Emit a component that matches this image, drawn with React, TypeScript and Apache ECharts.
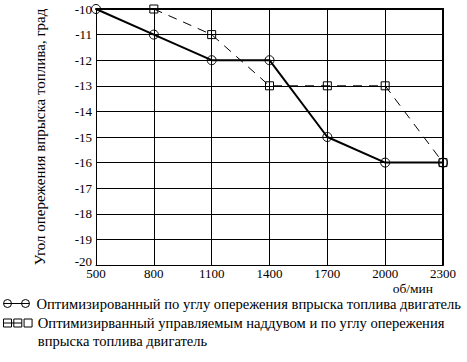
import React, { useEffect, useRef } from 'react';
import * as echarts from 'echarts';

const rpm = [500, 800, 1100, 1400, 1700, 2000, 2300];
const seriesAName = 'Оптимизированный по углу опережения впрыска топлива двигатель';
const seriesBName = 'Оптимизирванный управляемым наддувом и по углу опережения впрыска топлива двигатель';
const seriesBLine1 = 'Оптимизирванный управляемым наддувом и по углу опережения';
const seriesBLine2 = 'впрыска топлива двигатель';
const seriesA = [-10, -11, -12, -12, -15, -16, -16];
const seriesBRpm = [800, 1100, 1400, 1700, 2000, 2300];
const seriesB = [-10, -11, -13, -13, -13, -16];
const yAxisTitle = 'Угол опережения впрыска топлива, град';
const xAxisTitle = 'об/мин';

const FONT = 'Liberation Serif, serif';

const legendIconStyle = { color: 'rgba(0,0,0,0)', borderColor: '#000', borderWidth: 1 };

export default function App() {
  const ref = useRef<HTMLDivElement>(null);
  useEffect(() => {
    if (!ref.current) return;
    const chart = echarts.init(ref.current, null, { renderer: 'svg' });
    chart.setOption({
      animation: false,
      backgroundColor: '#fff',
      grid: { left: 96, right: 24, top: 9, bottom: 97, containLabel: false, outerBoundsMode: 'none' },
      graphic: [
        {
          type: 'text',
          right: 34,
          top: 281,
          style: { text: xAxisTitle, fontFamily: FONT, fontSize: 13.5, lineHeight: 11, fill: '#000' },
        },
      ],
      legend: [
        {
          orient: 'vertical',
          left: 3,
          top: 296,
          padding: 0,
          itemWidth: 30,
          itemHeight: 8,
          textStyle: { fontFamily: FONT, fontSize: 14.6, color: '#000', lineHeight: 12 },
          data: [
            {
              name: seriesAName,
              icon: 'path://M0,4L26,4M0,4A4,4,0,1,1,8,4A4,4,0,1,1,0,4ZM18,4A4,4,0,1,1,26,4A4,4,0,1,1,18,4Z',
              itemStyle: legendIconStyle,
            },
          ],
        },
        {
          orient: 'vertical',
          left: 3,
          top: 296,
          padding: 0,
          itemWidth: 30,
          itemHeight: 8,
          textStyle: { fontFamily: FONT, fontSize: 14.6, color: '#000', lineHeight: 18 },
          formatter: (name: string) => (name === seriesBName ? '\u00a0\n' + seriesBLine1 + '\n' + seriesBLine2 : name),
          data: [
            {
              name: seriesBName,
              icon: 'path://M0,0H7V7H0ZM9,0H16V7H9ZM18,0H25V7H18ZM0,3.5H16',
              itemStyle: legendIconStyle,
            },
          ],
        },
      ],
      xAxis: [
        {
          type: 'value',
          min: 500,
          max: 2300,
          interval: 300,
          axisLine: { show: true, lineStyle: { color: '#000', width: 1 } },
          axisTick: { show: false },
          axisLabel: { fontFamily: FONT, fontSize: 13, lineHeight: 13, color: '#000', margin: 2, formatter: (v: number) => String(v) },
          splitLine: { show: true, lineStyle: { color: '#000', width: 1 } },
        },
        {
          type: 'value',
          position: 'top',
          min: 500,
          max: 2300,
          axisLine: { show: true, lineStyle: { color: '#000', width: 2 } },
          axisTick: { show: false },
          axisLabel: { show: false },
          splitLine: { show: false },
        },
      ],
      yAxis: [
        {
          type: 'value',
          min: -20,
          max: -10,
          interval: 1,
          name: yAxisTitle,
          nameLocation: 'middle',
          nameGap: 49,
          nameTextStyle: { fontFamily: FONT, fontSize: 15, color: '#000' },
          axisLine: { show: true, lineStyle: { color: '#000', width: 1 } },
          axisTick: { show: false },
          axisLabel: {
            fontFamily: FONT,
            fontSize: 13,
            color: '#000',
            margin: 4,
            formatter: (v: number) => (v === -20 ? '{low|' + v + '}' : String(v)),
            rich: { low: { fontFamily: FONT, fontSize: 13, color: '#000', padding: [0, 0, 8, 0] } },
          },
          splitLine: { show: true, lineStyle: { color: '#000', width: 1 } },
        },
        {
          type: 'value',
          position: 'right',
          min: -20,
          max: -10,
          axisLine: { show: true, lineStyle: { color: '#000', width: 2 } },
          axisTick: { show: false },
          axisLabel: { show: false },
          splitLine: { show: false },
        },
      ],
      series: [
        {
          name: seriesAName,
          type: 'line',
          data: rpm.map((x, i) => [x, seriesA[i]]),
          symbol: 'circle',
          symbolSize: 9,
          showAllSymbol: true,
          lineStyle: { color: '#000', width: 2 },
          itemStyle: { color: 'rgba(0,0,0,0)', borderColor: '#000', borderWidth: 1 },
          z: 3,
        },
        {
          name: seriesBName,
          type: 'line',
          data: seriesBRpm.map((x, i) => [x, seriesB[i]]),
          symbol: 'rect',
          symbolSize: 8,
          showAllSymbol: true,
          lineStyle: { color: '#000', width: 1, type: [9, 7] },
          itemStyle: { color: 'rgba(0,0,0,0)', borderColor: '#000', borderWidth: 1 },
          z: 2,
        },
      ],
    });
    return () => chart.dispose();
  }, []);
  return <div ref={ref} style={{ width: 467, height: 362, position: 'absolute', left: 0, top: 0 }} />;
}
